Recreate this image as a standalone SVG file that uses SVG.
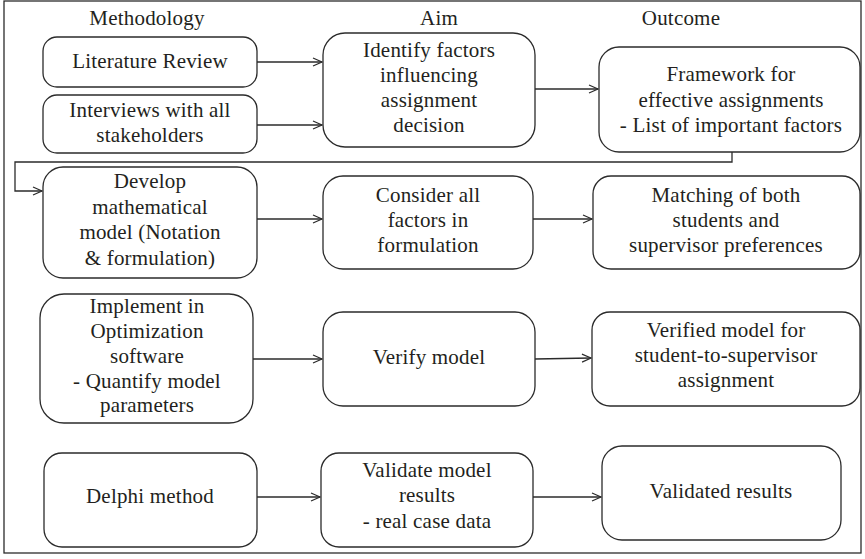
<svg xmlns="http://www.w3.org/2000/svg" width="865" height="559" viewBox="0 0 865 559">
<defs>
<style>
.box{fill:#fff;stroke:#2b2b2b;stroke-width:1.3}
.t{font-family:'Liberation Serif','Times New Roman',serif;font-size:21px;letter-spacing:0.2px;fill:#231f20;text-anchor:middle}
.c{fill:none;stroke:#2b2b2b;stroke-width:1.3}
</style>
<marker id="ah" markerWidth="12" markerHeight="10" refX="10" refY="5" orient="auto" markerUnits="userSpaceOnUse">
<path d="M1,1 L10,5 L1,9" fill="none" stroke="#2b2b2b" stroke-width="1.2"/>
</marker>
</defs>
<rect x="0" y="0" width="865" height="559" fill="#fff"/>
<rect x="4" y="1" width="857" height="552" fill="none" stroke="#2b2b2b" stroke-width="1.3"/>
<g id="headers">
<text class="t" x="147" y="25">Methodology</text>
<text class="t" x="439" y="25">Aim</text>
<text class="t" x="681" y="25">Outcome</text>
</g>
<g id="connectors">
<line class="c" x1="257" y1="62" x2="322" y2="62" marker-end="url(#ah)"/>
<line class="c" x1="257" y1="125" x2="322" y2="125" marker-end="url(#ah)"/>
<line class="c" x1="535" y1="89" x2="598" y2="89" marker-end="url(#ah)"/>
<polyline class="c" points="732,152 732,162 15,162 15,191 42,191" marker-end="url(#ah)"/>
<line class="c" x1="257" y1="219" x2="322" y2="219" marker-end="url(#ah)"/>
<line class="c" x1="533" y1="219" x2="592" y2="219" marker-end="url(#ah)"/>
<line class="c" x1="253" y1="359" x2="322" y2="359" marker-end="url(#ah)"/>
<line class="c" x1="535" y1="359" x2="591" y2="358" marker-end="url(#ah)"/>
<line class="c" x1="257" y1="497" x2="320" y2="497" marker-end="url(#ah)"/>
<line class="c" x1="533" y1="497" x2="601" y2="497" marker-end="url(#ah)"/>
</g>
<g id="n-literature">
<rect class="box" x="43" y="37" width="214" height="50" rx="14"/>
<text class="t" x="150" y="68">Literature Review</text>
</g>
<g id="n-interviews">
<rect class="box" x="43" y="95" width="214" height="58" rx="14"/>
<text class="t" x="150" y="117">Interviews with all</text>
<text class="t" x="150" y="142">stakeholders</text>
</g>
<g id="n-identify">
<rect class="box" x="323" y="33" width="212" height="114" rx="22"/>
<text class="t" x="429" y="57">Identify factors</text>
<text class="t" x="429" y="82">influencing</text>
<text class="t" x="429" y="107">assignment</text>
<text class="t" x="429" y="132">decision</text>
</g>
<g id="n-framework">
<rect class="box" x="599" y="47" width="261" height="105" rx="20"/>
<text class="t" x="731" y="81">Framework for</text>
<text class="t" x="731" y="107">effective assignments</text>
<text class="t" x="731" y="132">- List of important factors</text>
</g>
<g id="n-develop">
<rect class="box" x="43" y="167" width="214" height="111" rx="20"/>
<text class="t" x="150" y="188">Develop</text>
<text class="t" x="150" y="214">mathematical</text>
<text class="t" x="150" y="239">model (Notation</text>
<text class="t" x="150" y="265">&amp; formulation)</text>
</g>
<g id="n-consider">
<rect class="box" x="323" y="176" width="210" height="93" rx="20"/>
<text class="t" x="428" y="202">Consider all</text>
<text class="t" x="428" y="227">factors in</text>
<text class="t" x="428" y="252">formulation</text>
</g>
<g id="n-matching">
<rect class="box" x="593" y="176" width="267" height="93" rx="18"/>
<text class="t" x="726" y="202">Matching of both</text>
<text class="t" x="726" y="227">students and</text>
<text class="t" x="726" y="252">supervisor preferences</text>
</g>
<g id="n-implement">
<rect class="box" x="40" y="294" width="213" height="129" rx="24"/>
<text class="t" x="147" y="313">Implement in</text>
<text class="t" x="147" y="338">Optimization</text>
<text class="t" x="147" y="363">software</text>
<text class="t" x="147" y="388">- Quantify model</text>
<text class="t" x="147" y="412">parameters</text>
</g>
<g id="n-verify">
<rect class="box" x="323" y="312" width="212" height="94" rx="20"/>
<text class="t" x="429" y="364">Verify model</text>
</g>
<g id="n-verified">
<rect class="box" x="592" y="312" width="268" height="94" rx="18"/>
<text class="t" x="726" y="337">Verified model for</text>
<text class="t" x="726" y="362">student-to-supervisor</text>
<text class="t" x="726" y="387">assignment</text>
</g>
<g id="n-delphi">
<rect class="box" x="44" y="453" width="213" height="94" rx="18"/>
<text class="t" x="150" y="503">Delphi method</text>
</g>
<g id="n-validate">
<rect class="box" x="321" y="453" width="212" height="94" rx="18"/>
<text class="t" x="427" y="477">Validate model</text>
<text class="t" x="427" y="502">results</text>
<text class="t" x="427" y="528">- real case data</text>
</g>
<g id="n-validated">
<rect class="box" x="602" y="446" width="239" height="94" rx="20"/>
<text class="t" x="721" y="498">Validated results</text>
</g>
</svg>
